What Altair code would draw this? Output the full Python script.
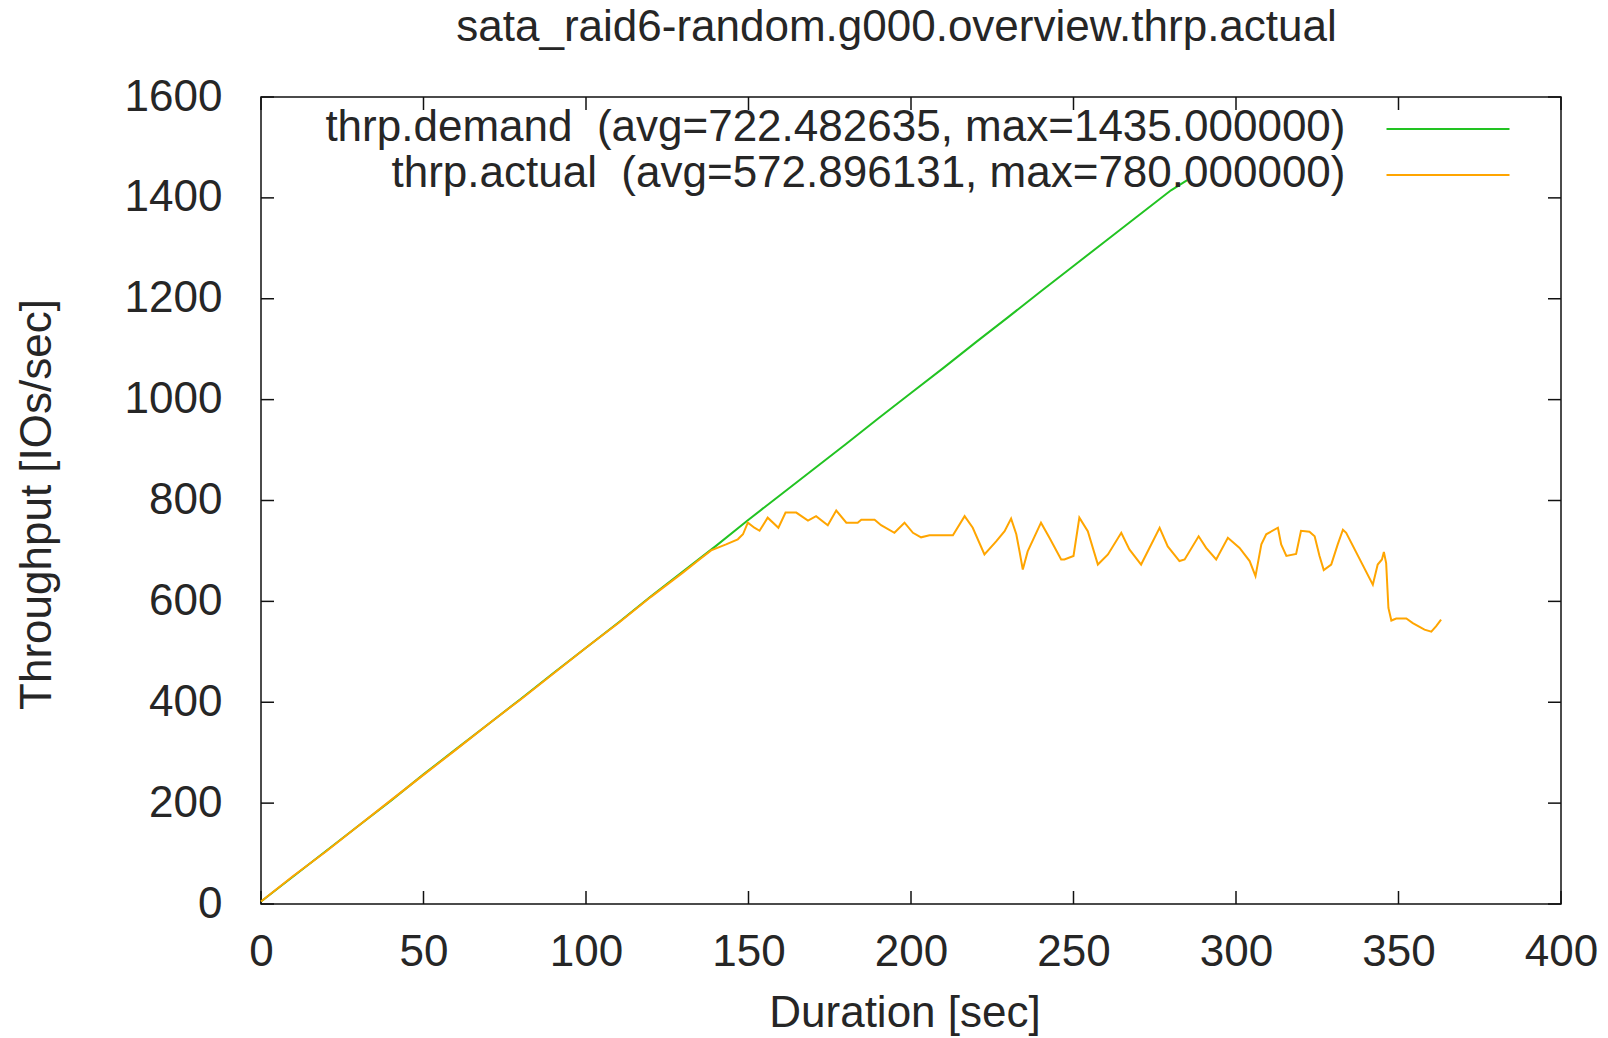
import altair as alt
import pandas as pd

# ---------------- data ----------------
demand_t = [0, 10, 20, 30, 40, 50, 60, 70, 80, 90, 100, 110, 120, 130, 140,
            150, 160, 170, 180, 190, 200, 210, 220, 230, 240, 250, 260, 270,
            280, 285]
demand_v = [5, 55, 105, 155, 205, 257, 307, 357, 407, 458, 508, 558, 610, 660,
            710, 762, 812, 862, 912, 963, 1013, 1063, 1114, 1164, 1215, 1265,
            1315, 1365, 1415, 1435]

actual_t = [0, 10, 20, 30, 40, 50, 60, 70, 80, 90, 100, 110, 120, 130, 134.9,
            138.5, 143.1, 146.7, 148.3, 149.8, 151.8, 153.4, 155.9, 159.2,
            161.4, 164.7, 168.3, 170.8, 174.4, 177.0, 180.1, 183.6, 184.7,
            188.8, 190.8, 194.9, 198.0, 200.6, 203.1, 205.7, 212.9, 216.5,
            219.0, 222.6, 226.2, 228.8, 230.8, 232.4, 233.4, 234.4, 235.9,
            240.0, 242.6, 246.2, 247.2, 250.0, 251.8, 254.4, 257.5, 260.6,
            264.7, 267.2, 270.8, 276.5, 279.0, 282.6, 284.2, 288.5, 290.8,
            293.9, 297.5, 301.1, 304.2, 306.0, 307.8, 309.3, 312.9, 313.9,
            315.5, 318.5, 320.0, 322.6, 324.2, 325.7, 327.0, 329.3, 331.3,
            332.9, 333.9, 342.1, 343.6, 344.9, 345.5, 346.2, 346.9, 347.8,
            349.3, 352.4, 354.4, 358.0, 360.1, 361.6, 363.1]
actual_v = [5, 56, 104, 155, 206, 256, 306, 357, 406, 457, 508, 557, 609, 658,
            683, 701, 713, 723, 733, 756, 746, 740, 766, 746, 776, 776, 760,
            769, 751, 780, 756, 756, 762, 762, 751, 736, 756, 736, 727, 731,
            731, 769, 746, 693, 719, 739, 764, 733, 699, 663, 699, 756, 726,
            683, 683, 690, 766, 739, 673, 693, 736, 703, 673, 746, 709, 680,
            683, 729, 706, 683, 726, 706, 680, 650, 713, 733, 746, 713, 690,
            694, 740, 738, 729, 690, 662, 673, 713, 742, 736, 633, 673, 683,
            698, 676, 587, 562, 566, 566, 557, 544, 540, 551, 564]

x_ticks = [0, 50, 100, 150, 200, 250, 300, 350, 400]
y_ticks = [0, 200, 400, 600, 800, 1000, 1200, 1400, 1600]

# two spaces between name and bracket kept visible with a no-break space
legend_labels = ["thrp.demand \u00a0(avg=722.482635, max=1435.000000)",
                 "thrp.actual \u00a0(avg=572.896131, max=780.000000)"]
series_colors = ["#22c322", "#ffa500"]

title_text = "sata_raid6-random.g000.overview.thrp.actual"
x_title = "Duration [sec]"
y_title = "Throughput [IOs/sec]"

# ---------------- styling ----------------
W, H = 1300, 807
FONT = "Liberation Sans"
FS = 44
TXT = "#262626"
TICK = 13

demand_df = pd.DataFrame({"t": demand_t, "v": demand_v})
actual_df = pd.DataFrame({"t": actual_t, "v": actual_v})
xt_df = pd.DataFrame({"t": x_ticks})
yt_df = pd.DataFrame({"v": y_ticks})

xscale = alt.Scale(domain=[0, 400], nice=False, zero=False)
yscale = alt.Scale(domain=[0, 1600], nice=False, zero=False)

ax_x = alt.Axis(values=x_ticks, format="d", ticks=False, tickSize=0, domain=False, grid=False,
                labelFont=FONT, labelFontSize=FS, labelColor=TXT, labelPadding=26,
                labelFlush=False, labelOverlap=False,
                title=x_title, titleFont=FONT, titleFontSize=FS, titleFontWeight="normal",
                titleColor=TXT, titleX=643.5, titleY=109, titleBaseline="middle",
                titleAlign="center")
ax_y = alt.Axis(values=y_ticks, format="d", ticks=False, tickSize=0, domain=False, grid=False,
                labelFont=FONT, labelFontSize=FS, labelColor=TXT, labelPadding=39,
                labelFlush=False, labelOverlap=False,
                title=y_title, titleFont=FONT, titleFontSize=FS, titleFontWeight="normal",
                titleColor=TXT, titleX=-223.5, titleY=407, titleBaseline="middle",
                titleAlign="center", titleAngle=270)

X = lambda: alt.X("t:Q", scale=xscale, axis=ax_x)
Y = lambda: alt.Y("v:Q", scale=yscale, axis=ax_y)

demand_line = alt.Chart(demand_df).mark_line(strokeWidth=2, color=series_colors[0]).encode(
    x=X(), y=Y())
actual_line = alt.Chart(actual_df).mark_line(strokeWidth=2, color=series_colors[1]).encode(
    x=X(), y=Y())

tick_style = dict(color="#111111", strokeWidth=1.5)
bottom_ticks = alt.Chart(xt_df).mark_rule(**tick_style).encode(
    x=X(), y=alt.value(H), y2=alt.value(H - TICK))
top_ticks = alt.Chart(xt_df).mark_rule(**tick_style).encode(
    x=X(), y=alt.value(0), y2=alt.value(TICK))
left_ticks = alt.Chart(yt_df).mark_rule(**tick_style).encode(
    y=Y(), x=alt.value(0), x2=alt.value(TICK))
right_ticks = alt.Chart(yt_df).mark_rule(**tick_style).encode(
    y=Y(), x=alt.value(W), x2=alt.value(W - TICK))

layers = [bottom_ticks, top_ticks, left_ticks, right_ticks, demand_line, actual_line]

legend_rows = [32, 78]
for label, col, yy in zip(legend_labels, series_colors, legend_rows):
    ldf = pd.DataFrame({"label": [label]})
    layers.append(
        alt.Chart(ldf).mark_text(align="right", baseline="middle", font=FONT,
                                 fontSize=FS, color=TXT).encode(
            text="label:N", x=alt.value(1084.5), y=alt.value(yy - 1))
    )
    layers.append(
        alt.Chart(ldf).mark_rule(color=col, strokeWidth=2).encode(
            x=alt.value(1125.5), x2=alt.value(1248.5), y=alt.value(yy))
    )

tdf = pd.DataFrame({"label": [title_text]})
layers.append(
    alt.Chart(tdf).mark_text(align="center", baseline="middle", font=FONT,
                             fontSize=FS, color=TXT).encode(
        text="label:N", x=alt.value(635.5), y=alt.value(-69))
)

chart = alt.layer(*layers).properties(
    width=W, height=H,
    autosize=alt.AutoSizeParams(type="none"),
    padding={"left": 253, "top": 89, "right": 39, "bottom": 133},
    background="white",
).configure_view(stroke="#111111", strokeWidth=1.5)

chart.save("out.html", embed_options={"renderer": "svg", "actions": False})
